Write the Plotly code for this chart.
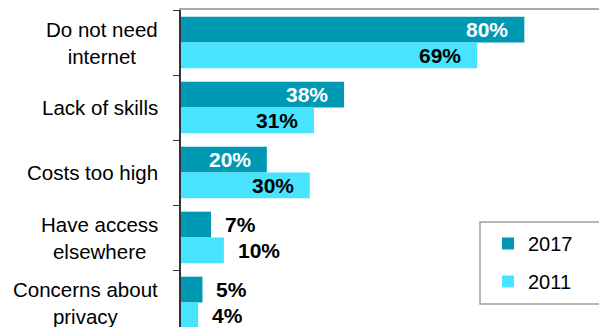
import plotly.graph_objects as go

# Reasons for not having internet access at home, share of households
categories = ["Do not need<br>internet", "Lack of skills", "Costs too high",
              "Have access<br>elsewhere", "Concerns about<br>privacy"]
share_2017 = [80, 38, 20, 7, 5]
share_2011 = [69, 31, 30, 10, 4]
years = ["2017", "2011"]

COLOR_2017 = "#0099b4"
COLOR_2011 = "#48e4ff"
FONT = "Liberation Sans, Arial, sans-serif"

W, H = 599, 327
M_L, M_T = 181, 10
X_MAX = 97.4
BARGAP = 0.205
Y_RANGE = [4.377, -0.5]

fig = go.Figure()
idx = list(range(len(categories)))
for name, vals, col in [(years[0], share_2017, COLOR_2017),
                        (years[1], share_2011, COLOR_2011)]:
    fig.add_trace(go.Bar(
        x=vals, y=idx, orientation="h", name=name,
        marker=dict(color=col, line=dict(width=0)),
        legendgroup=name, hoverinfo="skip",
    ))

# value labels: inside the bar end when the bar is long enough, outside otherwise
half = (1 - BARGAP) / 4  # offset of each bar centre from the category centre
for vals, dy, inside_color in [(share_2017, -half, "white"), (share_2011, half, "black")]:
    for i, v in enumerate(vals):
        inside = v >= 15
        fig.add_annotation(
            x=v, y=i + dy, xref="x", yref="y", text=f"<b>{v}%</b>",
            showarrow=False, xanchor="right" if inside else "left",
            xshift=-14 if inside else 12, yanchor="middle",
            font=dict(family=FONT, size=21, color=inside_color if inside else "black"),
        )

# category labels, centred lines, right edge left of the axis
for i, c in enumerate(categories):
    fig.add_annotation(
        x=0, y=i, xref="paper", yref="y", text=c, showarrow=False,
        xanchor="right", xshift=-21, align="center", yanchor="middle",
        font=dict(family=FONT, size=20.5, color="black"),
    )

# legend frame
pw = W - M_L
ph = H - M_T
fig.add_shape(type="rect", xref="paper", yref="paper",
              x0=(480 - M_L) / pw, x1=1.2,
              y0=(H - 304) / ph, y1=(H - 222) / ph,
              line=dict(color="#a0a0a0", width=1.5), fillcolor="white", layer="below")

fig.update_layout(
    width=W, height=H,
    margin=dict(l=M_L, r=0, t=M_T, b=0, pad=0),
    barmode="group", bargap=BARGAP, bargroupgap=0,
    plot_bgcolor="rgba(0,0,0,0)", paper_bgcolor="white",
    font=dict(family=FONT, size=20, color="black"),
    showlegend=True,
    legend=dict(
        x=(488 - M_L) / pw, y=(H - 224) / ph, xanchor="left", yanchor="top",
        bgcolor="rgba(0,0,0,0)", borderwidth=0, tracegroupgap=9,
        traceorder="grouped", font=dict(family=FONT, size=20),
    ),
    xaxis=dict(range=[0, X_MAX], side="top", showline=True, linecolor="#aaaaaa",
               linewidth=2, showticklabels=False, showgrid=False, zeroline=False,
               ticks=""),
    yaxis=dict(type="linear", range=Y_RANGE, showline=True, linecolor="#333333",
               linewidth=1.5, ticks="outside", ticklen=6, tickcolor="#333333",
               tickwidth=1.2, tickvals=[i - 0.5 for i in range(len(categories) + 1)],
               showticklabels=False, showgrid=False, zeroline=False),
)

fig.write_html("out.html")
